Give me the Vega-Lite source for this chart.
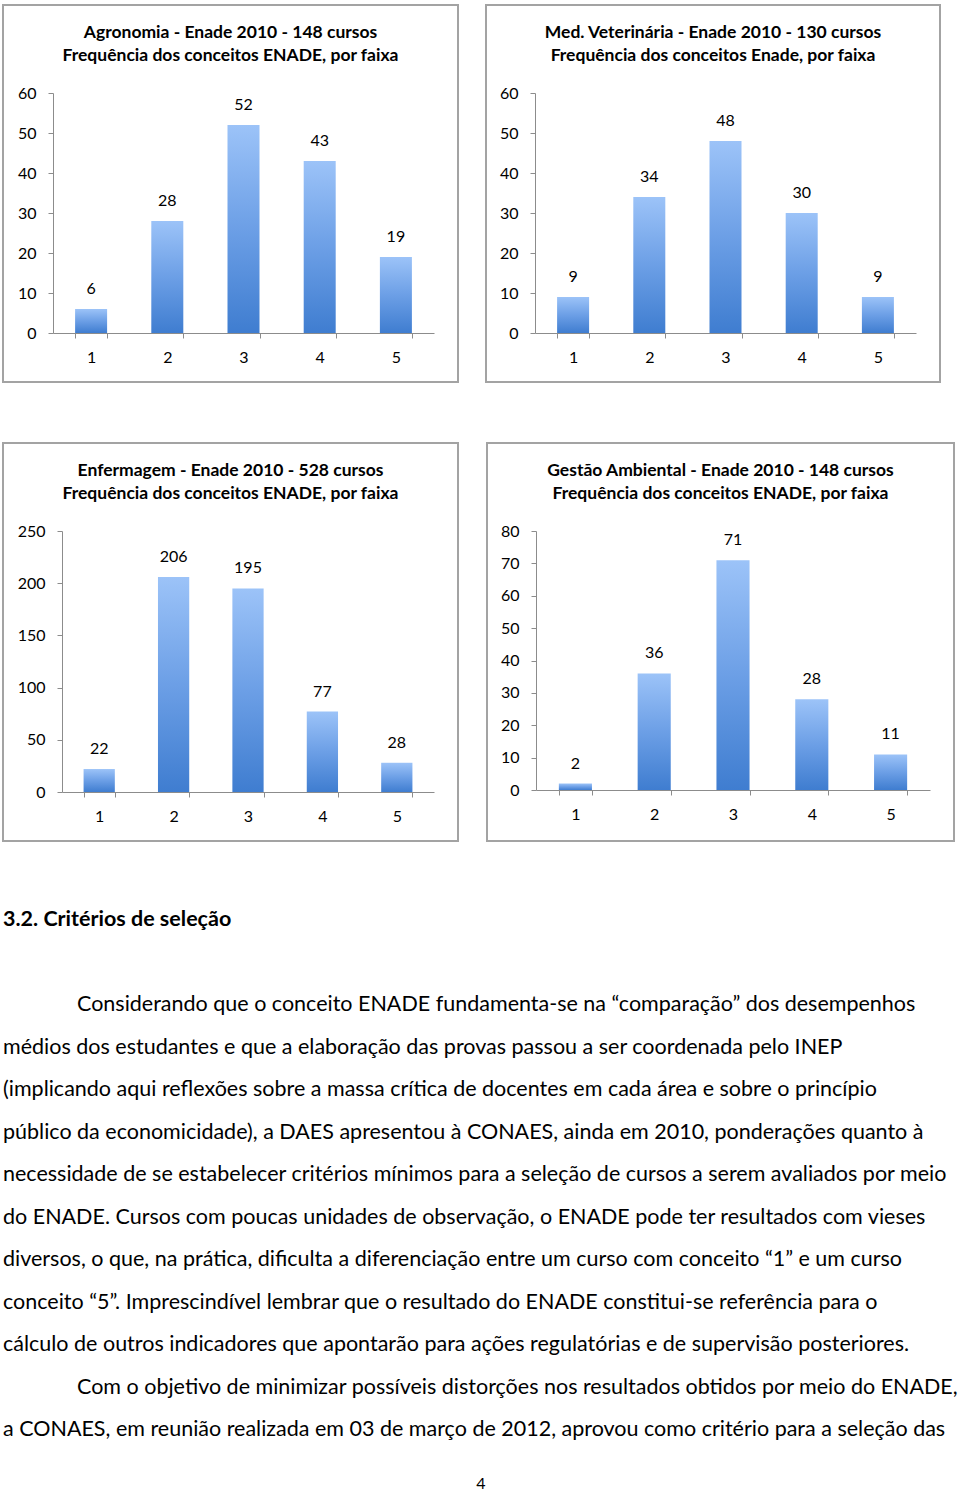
{
  "$schema": "https://vega.github.io/schema/vega-lite/v6.json",
  "padding": {"left": 2, "top": 4, "right": 0, "bottom": 0},
  "background": "white",
  "config": {
    "font": "Lato",
    "view": {"stroke": "#a3a3a3", "strokeWidth": 2},
    "axis": {"domainColor": "#8c8c8c", "tickColor": "#8c8c8c", "tickSize": 5, "labelFontSize": 16, "labelColor": "#000000", "labelFont": "Lato", "grid": false, "title": null},
    "title": {"font": "Lato", "fontSize": 17.5, "fontWeight": "bold", "color": "#000000", "anchor": "middle", "lineHeight": 23, "baseline": "bottom", "offset": -59},
    "text": {"font": "Lato"}
  },
  "datasets": {
    "agronomia": [{"conceito": 1, "cursos": 6}, {"conceito": 2, "cursos": 28}, {"conceito": 3, "cursos": 52}, {"conceito": 4, "cursos": 43}, {"conceito": 5, "cursos": 19}],
    "veterinaria": [{"conceito": 1, "cursos": 9}, {"conceito": 2, "cursos": 34}, {"conceito": 3, "cursos": 48}, {"conceito": 4, "cursos": 30}, {"conceito": 5, "cursos": 9}],
    "enfermagem": [{"conceito": 1, "cursos": 22}, {"conceito": 2, "cursos": 206}, {"conceito": 3, "cursos": 195}, {"conceito": 4, "cursos": 77}, {"conceito": 5, "cursos": 28}],
    "gestao": [{"conceito": 1, "cursos": 2}, {"conceito": 2, "cursos": 36}, {"conceito": 3, "cursos": 71}, {"conceito": 4, "cursos": 28}, {"conceito": 5, "cursos": 11}],
    "texto": [
      {"tipo": "titulo", "linha": -1, "recuo": 0, "texto": "3.2. Critérios de seleção"},
      {"tipo": "corpo", "linha": 1, "recuo": 1, "texto": "Considerando que o conceito ENADE fundamenta-se na “comparação” dos desempenhos"},
      {"tipo": "corpo", "linha": 2, "recuo": 0, "texto": "médios dos estudantes e que a elaboração das provas passou a ser coordenada pelo INEP"},
      {"tipo": "corpo", "linha": 3, "recuo": 0, "texto": "(implicando aqui reflexões sobre a massa crítica de docentes em cada área e sobre o princípio"},
      {"tipo": "corpo", "linha": 4, "recuo": 0, "texto": "público da economicidade), a DAES apresentou à CONAES, ainda em 2010, ponderações quanto à"},
      {"tipo": "corpo", "linha": 5, "recuo": 0, "texto": "necessidade de se estabelecer critérios mínimos para a seleção de cursos a serem avaliados por meio"},
      {"tipo": "corpo", "linha": 6, "recuo": 0, "texto": "do ENADE. Cursos com poucas unidades de observação, o ENADE pode ter resultados com vieses"},
      {"tipo": "corpo", "linha": 7, "recuo": 0, "texto": "diversos, o que, na prática, dificulta a diferenciação entre um curso com conceito “1” e um curso"},
      {"tipo": "corpo", "linha": 8, "recuo": 0, "texto": "conceito “5”.  Imprescindível lembrar que o resultado do ENADE constitui-se referência para o"},
      {"tipo": "corpo", "linha": 9, "recuo": 0, "texto": "cálculo de outros indicadores que apontarão para ações regulatórias e de supervisão posteriores."},
      {"tipo": "corpo", "linha": 10, "recuo": 1, "texto": "Com o objetivo de minimizar possíveis distorções nos resultados obtidos por meio do ENADE,"},
      {"tipo": "corpo", "linha": 11, "recuo": 0, "texto": "a CONAES, em reunião realizada em 03 de março de 2012, aprovou como critério para a seleção das"},
      {"tipo": "pagina", "linha": 12.28, "recuo": 0, "texto": "4"}
    ]
  },
  "spacing": 59,
  "vconcat": [
    {
      "spacing": 26,
      "hconcat": [
        {
          "width": 455, "height": 377,
          "title": {"text": ["Agronomia - Enade 2010 - 148 cursos", "Frequência dos conceitos ENADE, por faixa"]},
          "data": {"name": "agronomia"},
          "encoding": {
            "x": {"field": "conceito", "type": "ordinal", "scale": {"range": [50, 431], "paddingInner": 0.58, "paddingOuter": 0.29}, "axis": {"offset": -49, "labelAngle": 0, "tickBand": "extent", "labelPadding": 11}},
            "y": {"field": "cursos", "type": "quantitative", "scale": {"domain": [0, 60], "range": [328, 88], "nice": false}, "axis": {"offset": -50, "values": [0, 10, 20, 30, 40, 50, 60], "labelPadding": 12}}
          },
          "layer": [
            {"mark": {"type": "bar", "fill": {"gradient": "linear", "x1": 0, "y1": 0, "x2": 0, "y2": 1, "stops": [{"offset": 0, "color": "#9cc3f8"}, {"offset": 0.5, "color": "#6c9fe6"}, {"offset": 1, "color": "#3f7dd0"}]}}},
            {"mark": {"type": "text", "baseline": "middle", "dy": -20, "fontSize": 16, "color": "#000000"}, "encoding": {"text": {"field": "cursos", "type": "quantitative"}}}
          ]
        },
        {
          "width": 454, "height": 377,
          "title": {"text": ["Med. Veterinária - Enade 2010 - 130 cursos", "Frequência dos conceitos Enade, por faixa"]},
          "data": {"name": "veterinaria"},
          "encoding": {
            "x": {"field": "conceito", "type": "ordinal", "scale": {"range": [49, 430], "paddingInner": 0.58, "paddingOuter": 0.29}, "axis": {"offset": -49, "labelAngle": 0, "tickBand": "extent", "labelPadding": 11}},
            "y": {"field": "cursos", "type": "quantitative", "scale": {"domain": [0, 60], "range": [328, 88], "nice": false}, "axis": {"offset": -49, "values": [0, 10, 20, 30, 40, 50, 60], "labelPadding": 12}}
          },
          "layer": [
            {"mark": {"type": "bar", "fill": {"gradient": "linear", "x1": 0, "y1": 0, "x2": 0, "y2": 1, "stops": [{"offset": 0, "color": "#9cc3f8"}, {"offset": 0.5, "color": "#6c9fe6"}, {"offset": 1, "color": "#3f7dd0"}]}}},
            {"mark": {"type": "text", "baseline": "middle", "dy": -20, "fontSize": 16, "color": "#000000"}, "encoding": {"text": {"field": "cursos", "type": "quantitative"}}}
          ]
        }
      ]
    },
    {
      "spacing": 27,
      "hconcat": [
        {
          "width": 455, "height": 398,
          "title": {"text": ["Enfermagem - Enade 2010 - 528 cursos", "Frequência dos conceitos ENADE, por faixa"]},
          "data": {"name": "enfermagem"},
          "encoding": {
            "x": {"field": "conceito", "type": "ordinal", "scale": {"range": [59, 431], "paddingInner": 0.58, "paddingOuter": 0.29}, "axis": {"offset": -49, "labelAngle": 0, "tickBand": "extent", "labelPadding": 11}},
            "y": {"field": "cursos", "type": "quantitative", "scale": {"domain": [0, 250], "range": [349, 88], "nice": false}, "axis": {"offset": -59, "values": [0, 50, 100, 150, 200, 250], "labelPadding": 12}}
          },
          "layer": [
            {"mark": {"type": "bar", "fill": {"gradient": "linear", "x1": 0, "y1": 0, "x2": 0, "y2": 1, "stops": [{"offset": 0, "color": "#9cc3f8"}, {"offset": 0.5, "color": "#6c9fe6"}, {"offset": 1, "color": "#3f7dd0"}]}}},
            {"mark": {"type": "text", "baseline": "middle", "dy": -20, "fontSize": 16, "color": "#000000"}, "encoding": {"text": {"field": "cursos", "type": "quantitative"}}}
          ]
        },
        {
          "width": 467, "height": 398,
          "title": {"text": ["Gestão Ambiental - Enade 2010 - 148 cursos", "Frequência dos conceitos ENADE, por faixa"]},
          "data": {"name": "gestao"},
          "encoding": {
            "x": {"field": "conceito", "type": "ordinal", "scale": {"range": [49, 443], "paddingInner": 0.58, "paddingOuter": 0.29}, "axis": {"offset": -51, "labelAngle": 0, "tickBand": "extent", "labelPadding": 11}},
            "y": {"field": "cursos", "type": "quantitative", "scale": {"domain": [0, 80], "range": [347, 88], "nice": false}, "axis": {"offset": -49, "values": [0, 10, 20, 30, 40, 50, 60, 70, 80], "labelPadding": 12}}
          },
          "layer": [
            {"mark": {"type": "bar", "fill": {"gradient": "linear", "x1": 0, "y1": 0, "x2": 0, "y2": 1, "stops": [{"offset": 0, "color": "#9cc3f8"}, {"offset": 0.5, "color": "#6c9fe6"}, {"offset": 1, "color": "#3f7dd0"}]}}},
            {"mark": {"type": "text", "baseline": "middle", "dy": -20, "fontSize": 16, "color": "#000000"}, "encoding": {"text": {"field": "cursos", "type": "quantitative"}}}
          ]
        }
      ]
    },
    {
      "width": 956, "height": 594,
      "view": {"stroke": null},
      "data": {"name": "texto"},
      "resolve": {"scale": {"x": "independent"}},
      "encoding": {
        "y": {"field": "linha", "type": "quantitative", "scale": {"domain": [-1.447, 12.529], "reverse": true, "nice": false, "zero": false}, "axis": null}
      },
      "layer": [
        {
          "transform": [{"filter": "datum.tipo === 'titulo'"}],
          "mark": {"type": "text", "align": "left", "baseline": "middle", "fontSize": 21.5, "fontWeight": "bold", "color": "#000000"},
          "encoding": {
            "x": {"field": "recuo", "type": "quantitative", "scale": {"domain": [0, 1], "range": [0, 74]}, "axis": null},
            "text": {"field": "texto"}
          }
        },
        {
          "transform": [{"filter": "datum.tipo === 'corpo'"}],
          "mark": {"type": "text", "align": "left", "baseline": "middle", "fontSize": 21.5, "color": "#000000"},
          "encoding": {
            "x": {"field": "recuo", "type": "quantitative", "scale": {"domain": [0, 1], "range": [0, 74]}, "axis": null},
            "text": {"field": "texto"}
          }
        },
        {
          "transform": [{"filter": "datum.tipo === 'pagina'"}],
          "mark": {"type": "text", "align": "center", "baseline": "middle", "fontSize": 16, "color": "#000000"},
          "encoding": {
            "x": {"datum": 1, "type": "quantitative", "scale": {"domain": [0, 2], "nice": false, "zero": false}, "axis": null},
            "text": {"field": "texto"}
          }
        }
      ]
    }
  ]
}
